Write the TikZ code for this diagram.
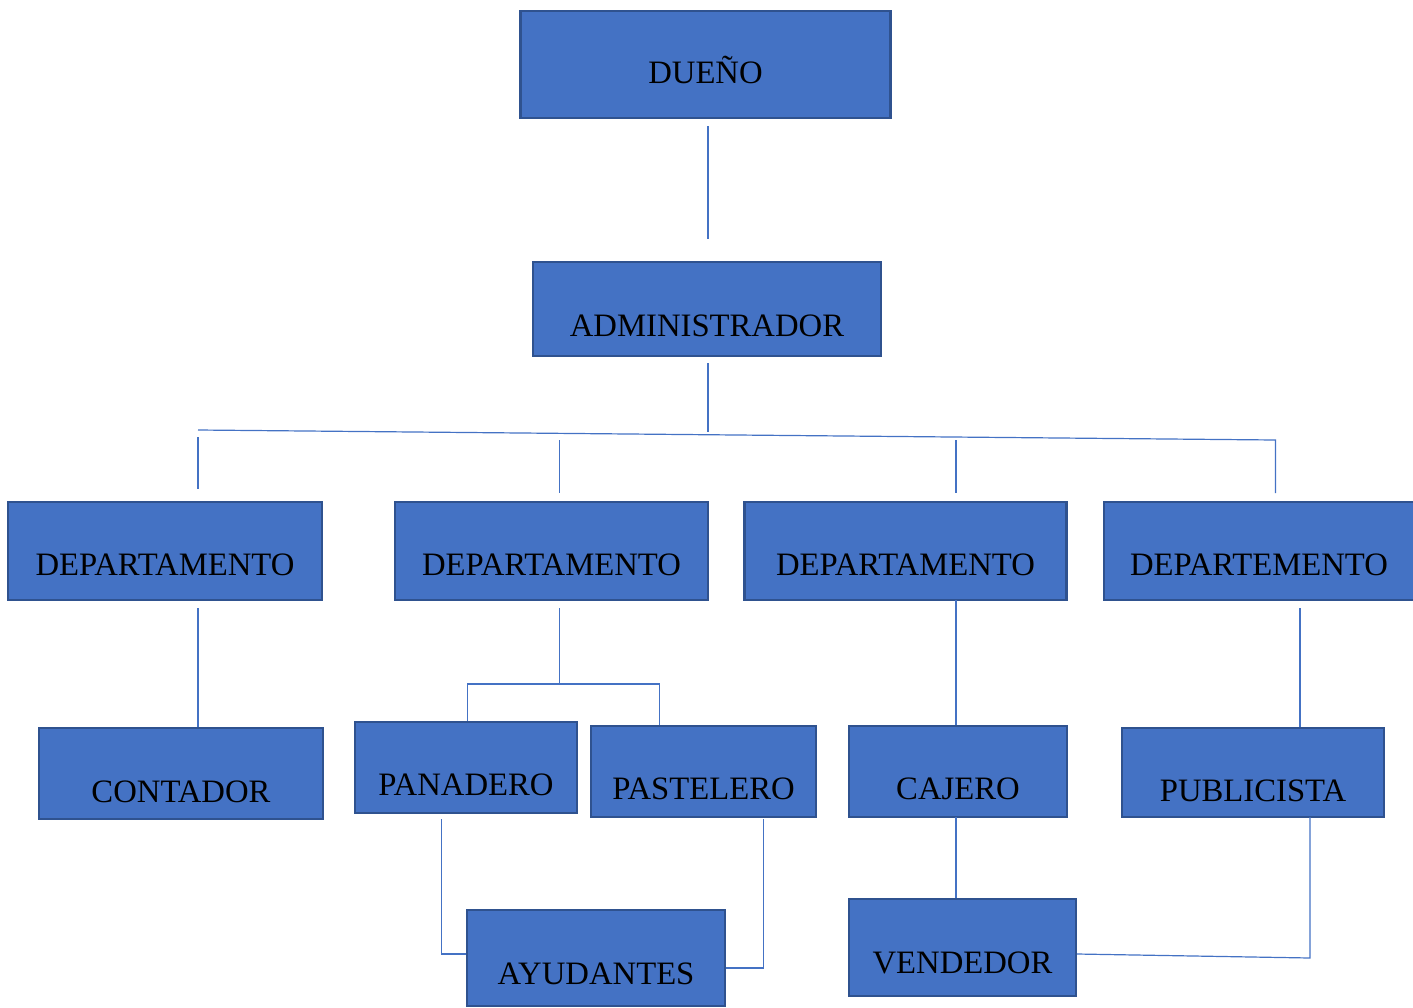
\documentclass[tikz,border=0pt]{standalone}
\usepackage{fontspec}
\setmainfont{Liberation Serif}
\usetikzlibrary{calc}
\definecolor{boxfill}{HTML}{4472C4}
\definecolor{boxborder}{HTML}{2F528F}
\definecolor{linecol}{HTML}{4472C4}
\tikzset{
  orgbox/.style={draw=boxborder, line width=2.2pt, fill=boxfill, inner sep=0pt,
    font=\fontsize{32.7}{37}\selectfont, text=black, text height=#1, text depth=0pt},
  conn/.style={draw=linecol, line width=1.2pt}
}
\begin{document}
\begin{tikzpicture}[x=1pt,y=-1pt]
\useasboundingbox (0,0) rectangle (1413,1007);
% boxes
\node[orgbox=38pt, minimum width=370pt, minimum height=107pt] (due) at (705.5,64.5) {DUEÑO};
\node[orgbox=54pt, minimum width=348pt, minimum height=94pt] (adm) at (707,309) {ADMINISTRADOR};
\node[orgbox=48pt, minimum width=314pt, minimum height=98pt] (dep1) at (165,551) {DEPARTAMENTO};
\node[orgbox=48pt, minimum width=313pt, minimum height=98pt] (dep2) at (551.5,551) {DEPARTAMENTO};
\node[orgbox=48pt, minimum width=322pt, minimum height=98pt] (dep3) at (905.5,551) {DEPARTAMENTO};
\node[orgbox=48pt, minimum width=310pt, minimum height=98pt] (dep4) at (1259,551) {DEPARTEMENTO};
\node[orgbox=57pt, minimum width=284pt, minimum height=91pt] (cont) at (181,773.5) {CONTADOR};
\node[orgbox=55pt, minimum width=222pt, minimum height=91pt] (pan) at (466,767.5) {PANADERO};
\node[orgbox=55pt, minimum width=225pt, minimum height=91pt] (pas) at (703.5,771.5) {PASTELERO};
\node[orgbox=52pt, minimum width=258pt, minimum height=96pt] (ayu) at (596,958) {AYUDANTES};
\node[orgbox=55pt, minimum width=218pt, minimum height=91pt] (caj) at (958,771.5) {CAJERO};
\node[orgbox=51pt, minimum width=227pt, minimum height=97pt] (ven) at (962.5,947.5) {VENDEDOR};
\node[orgbox=57pt, minimum width=262pt, minimum height=89pt] (pub) at (1253,772.5) {PUBLICISTA};
% free ends of the connectors
\coordinate (a1) at (708,126);
\coordinate (a2) at (708,239);
\coordinate (a3) at (708,363);
\coordinate (a4) at (708,432);
\coordinate (hL) at (198,430);
\coordinate (hR) at (1275.5,440);
\coordinate (d1t) at (198,437);
\coordinate (d1b) at (198,489);
\coordinate (d2t) at (559.5,440);
\coordinate (d2b) at (559.5,493);
\coordinate (d3t) at (956,440);
\coordinate (d3b) at (956,493);
\coordinate (d4b) at (1275.5,493);
\coordinate (c1) at (198,608);
\coordinate (p1) at (559.5,608);
\coordinate (p2) at (559.5,684);
\coordinate (pl) at (467.5,684);
\coordinate (pr) at (659.5,684);
\coordinate (pa1) at (441.5,819);
\coordinate (pa2) at (441.5,954);
\coordinate (ps1) at (763.5,819);
\coordinate (ps2) at (763.5,968);
\coordinate (cj) at (956,600);
\coordinate (cv) at (956,817);
\coordinate (u1) at (1300,608);
\coordinate (v1) at (1310,817);
\coordinate (v2) at (1310,958);
% connectors
\draw[conn] (a1) -- (a2);
\draw[conn] (a3) -- (a4);
\draw[conn] (hL) -- (hR) -- (d4b);
\draw[conn] (d1t) -- (d1b);
\draw[conn] (d2t) -- (d2b);
\draw[conn] (d3t) -- (d3b);
\draw[conn] (c1) -- (cont.north -| c1);
\draw[conn] (p1) -- (p2);
\draw[conn] (pan.north -| pl) -- (pl) -- (pr) -- (pas.north -| pr);
\draw[conn] (pa1) -- (pa2) -- (ayu.west |- pa2);
\draw[conn] (ps1) -- (ps2) -- (ayu.east |- ps2);
\draw[conn] (cj) -- (caj.north -| cj);
\draw[conn] (cv) -- (ven.north -| cv);
\draw[conn] (u1) -- (pub.north -| u1);
\draw[conn] (v1) -- (v2) -- ($(ven.east)+(0,6.5)$);
\end{tikzpicture}
\end{document}
